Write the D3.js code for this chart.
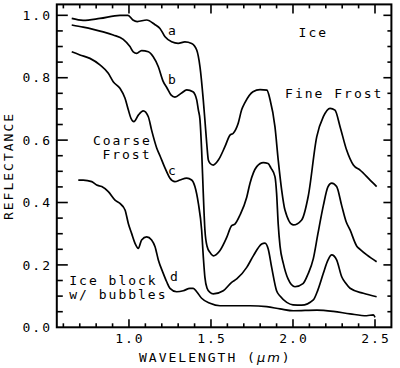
<!DOCTYPE html>
<html>
<head>
<meta charset="utf-8">
<script src="https://cdn.jsdelivr.net/npm/d3@7"></script>
<style>
  body { margin: 0; background: #fff; }
  text { font-family: "DejaVu Sans Mono", monospace; font-size: 13px; letter-spacing: 2px; fill: #000; }
</style>
</head>
<body>
<div id="chart"></div>
<script>
// Reflectance spectra, [wavelength (um), reflectance]
const curveA = [
  [0.651, 0.99], [0.72, 0.984], [0.823, 0.99], [0.945, 1.0], [0.994, 1.0], [1.024, 0.985],
  [1.05, 0.98], [1.108, 0.985], [1.159, 0.97], [1.189, 0.958], [1.22, 0.931], [1.26, 0.915],
  [1.30, 0.91], [1.341, 0.915], [1.382, 0.91], [1.413, 0.889], [1.433, 0.835], [1.453, 0.729],
  [1.463, 0.664], [1.474, 0.59], [1.484, 0.536], [1.494, 0.526], [1.514, 0.52], [1.545, 0.536],
  [1.585, 0.579], [1.616, 0.616], [1.636, 0.622], [1.666, 0.654], [1.687, 0.697], [1.707, 0.72],
  [1.756, 0.755], [1.799, 0.762], [1.841, 0.76], [1.860, 0.73], [1.890, 0.643], [1.910, 0.536],
  [1.931, 0.44], [1.951, 0.376], [2.002, 0.328], [2.053, 0.344], [2.093, 0.42], [2.145, 0.611],
  [2.185, 0.675], [2.226, 0.702], [2.256, 0.696], [2.287, 0.643], [2.327, 0.568], [2.368, 0.52],
  [2.409, 0.504], [2.47, 0.472], [2.51, 0.451]
];
const curveB = [
  [0.651, 0.969], [0.721, 0.962], [0.782, 0.955], [0.843, 0.947], [0.904, 0.937], [0.965, 0.923],
  [1.006, 0.9], [1.026, 0.883], [1.047, 0.878], [1.077, 0.887], [1.118, 0.883], [1.148, 0.867],
  [1.179, 0.835], [1.207, 0.79], [1.232, 0.767], [1.256, 0.745], [1.28, 0.738], [1.321, 0.751],
  [1.352, 0.761], [1.39, 0.755], [1.413, 0.729], [1.423, 0.697], [1.433, 0.665], [1.443, 0.568],
  [1.453, 0.43], [1.463, 0.312], [1.476, 0.26], [1.494, 0.24], [1.514, 0.229], [1.555, 0.246],
  [1.596, 0.288], [1.626, 0.326], [1.646, 0.331], [1.677, 0.36], [1.718, 0.417], [1.738, 0.462],
  [1.779, 0.515], [1.819, 0.528], [1.848, 0.525], [1.866, 0.51], [1.89, 0.483], [1.90, 0.43],
  [1.91, 0.33], [1.921, 0.26], [1.941, 0.205], [1.97, 0.155], [2.012, 0.13], [2.061, 0.14],
  [2.091, 0.17], [2.124, 0.22], [2.152, 0.3], [2.185, 0.39], [2.213, 0.45], [2.236, 0.462],
  [2.266, 0.451], [2.297, 0.39], [2.323, 0.34], [2.348, 0.312], [2.389, 0.26], [2.409, 0.25],
  [2.45, 0.232], [2.51, 0.21]
];
const curveC = [
  [0.651, 0.883], [0.701, 0.873], [0.762, 0.862], [0.823, 0.841], [0.874, 0.814], [0.904, 0.787],
  [0.945, 0.766], [0.976, 0.734], [0.996, 0.697], [1.012, 0.67], [1.03, 0.659], [1.057, 0.68],
  [1.087, 0.694], [1.118, 0.675], [1.138, 0.632], [1.169, 0.575], [1.189, 0.55], [1.22, 0.51],
  [1.25, 0.478], [1.28, 0.467], [1.311, 0.472], [1.352, 0.478], [1.382, 0.472], [1.402, 0.451],
  [1.423, 0.397], [1.443, 0.312], [1.454, 0.22], [1.463, 0.16], [1.476, 0.125], [1.494, 0.112],
  [1.514, 0.107], [1.575, 0.117], [1.626, 0.144], [1.657, 0.155], [1.718, 0.192], [1.758, 0.229],
  [1.809, 0.267], [1.829, 0.27], [1.849, 0.251], [1.87, 0.192], [1.90, 0.117], [1.921, 0.1],
  [1.962, 0.08], [2.0, 0.072], [2.053, 0.071], [2.124, 0.088], [2.152, 0.12], [2.185, 0.173],
  [2.213, 0.215], [2.236, 0.232], [2.266, 0.216], [2.297, 0.162], [2.323, 0.14], [2.348, 0.125],
  [2.429, 0.109], [2.51, 0.098]
];
const curveD = [
  [0.691, 0.472], [0.721, 0.472], [0.773, 0.467], [0.803, 0.456], [0.834, 0.451], [0.874, 0.435],
  [0.915, 0.408], [0.945, 0.397], [0.976, 0.376], [0.996, 0.333], [1.016, 0.301], [1.037, 0.269],
  [1.057, 0.253], [1.077, 0.28], [1.108, 0.29], [1.138, 0.28], [1.159, 0.258], [1.179, 0.216],
  [1.209, 0.173], [1.23, 0.146], [1.25, 0.125], [1.291, 0.114], [1.331, 0.117], [1.372, 0.125],
  [1.392, 0.125], [1.413, 0.114], [1.443, 0.093], [1.494, 0.077], [1.555, 0.069], [1.738, 0.069],
  [1.84, 0.066], [1.921, 0.059], [2.002, 0.053], [2.145, 0.055], [2.246, 0.051], [2.348, 0.043],
  [2.449, 0.037], [2.49, 0.04], [2.50, 0.032]
];

const xTickLabels = [1.0, 1.5, 2.0, 2.5];
const yTickLabels = [0.0, 0.2, 0.4, 0.6, 0.8, 1.0];

// Text labels: [text, wavelength, reflectance] (baseline-left anchored)
const curveLetters = [["a", 1.238, 0.937], ["b", 1.238, 0.781], ["c", 1.238, 0.488], ["d", 1.25, 0.150]];
const sampleNames = [
  ["Ice", 2.034, 0.93],
  ["Fine Frost", 1.952, 0.735],
  ["Coarse", 0.78, 0.584],
  ["Frost", 0.838, 0.539],
  ["Ice block", 0.636, 0.137],
  ["w/ bubbles", 0.636, 0.091]
];

const width = 400, height = 368;
const svg = d3.select("#chart").append("svg")
  .attr("width", width).attr("height", height);

const x = d3.scaleLinear().domain([0.56, 2.60]).range([56.8, 391.4]);
const y = d3.scaleLinear().domain([0, 1.035]).range([327.3, 4.4]);

// ticks (inward on all four sides)
const xMinor = d3.range(6, 26).map(d => d / 10);
const yMinor = d3.range(1, 21).map(d => d / 20);
const isMajorX = v => Math.abs(v * 2 - Math.round(v * 2)) < 1e-6;
const isMajorY = v => Math.abs(v * 5 - Math.round(v * 5)) < 1e-6;

const ticks = svg.append("g").attr("stroke", "#000").attr("stroke-width", 1.6);
xMinor.forEach(v => {
  const len = isMajorX(v) ? 8 : 4;
  ticks.append("line").attr("x1", x(v)).attr("x2", x(v))
    .attr("y1", y.range()[0]).attr("y2", y.range()[0] - len);
  ticks.append("line").attr("x1", x(v)).attr("x2", x(v))
    .attr("y1", y.range()[1]).attr("y2", y.range()[1] + (isMajorX(v) ? 9 : 4));
});
yMinor.forEach(v => {
  const major = isMajorY(v);
  ticks.append("line").attr("y1", y(v)).attr("y2", y(v))
    .attr("x1", x.range()[0]).attr("x2", x.range()[0] + (major ? 11 : 6));
  ticks.append("line").attr("y1", y(v)).attr("y2", y(v))
    .attr("x1", x.range()[1]).attr("x2", x.range()[1] - (major ? 8 : 4));
});

// frame
svg.append("rect")
  .attr("x", x.range()[0]).attr("y", y.range()[1])
  .attr("width", x.range()[1] - x.range()[0])
  .attr("height", y.range()[0] - y.range()[1])
  .attr("fill", "none").attr("stroke", "#000").attr("stroke-width", 2);

// tick labels
svg.selectAll(".xl").data(xTickLabels).enter().append("text")
  .attr("x", d => x(d) + 1).attr("y", 342.5)
  .attr("text-anchor", "middle")
  .text(d => d.toFixed(1));
svg.selectAll(".yl").data(yTickLabels).enter().append("text")
  .attr("x", 52).attr("y", d => y(d) + 4.6)
  .attr("text-anchor", "end")
  .text(d => d.toFixed(1));

// axis titles
const xt = svg.append("text").attr("x", 139).attr("y", 362);
xt.append("tspan").text("WAVELENGTH  (");
xt.append("tspan").attr("font-style", "italic").attr("font-family", "DejaVu Sans").text("\u03bcm");
xt.append("tspan").text(")");
svg.append("text")
  .attr("transform", "translate(12.7,166) rotate(-90)")
  .attr("text-anchor", "middle")
  .text("REFLECTANCE");

// curves
const line = d3.line()
  .x(d => x(d[0])).y(d => y(d[1]))
  .curve(d3.curveMonotoneX);
[curveA, curveB, curveC, curveD].forEach(c => {
  svg.append("path").datum(c)
    .attr("d", line)
    .attr("fill", "none")
    .attr("stroke", "#000")
    .attr("stroke-width", 1.7)
    .attr("stroke-linejoin", "round");
});

// labels
svg.selectAll(".lt").data(curveLetters.concat(sampleNames)).enter().append("text")
  .attr("x", d => x(d[1])).attr("y", d => y(d[2]))
  .text(d => d[0]);
</script>
</body>
</html>
